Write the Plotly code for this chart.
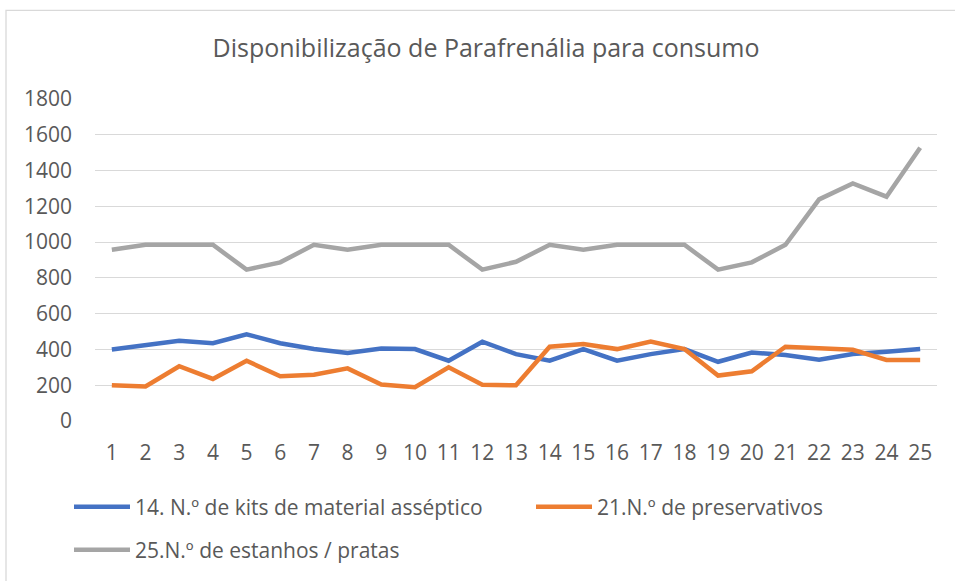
import plotly.graph_objects as go

# periods on the x axis
periods = list(range(1, 26))

kits_assepticos = [400, 424, 448, 435, 485, 435, 402, 380, 405, 402, 337, 443, 374,
                   337, 402, 337, 374, 402, 331, 383, 369, 343, 374, 387, 402]
preservativos = [200, 193, 306, 235, 337, 250, 259, 294, 204, 189, 300, 202, 200,
                 415, 430, 402, 444, 402, 254, 278, 415, 406, 398, 341, 341]
estanhos_pratas = [957, 985, 985, 985, 846, 887, 985, 957, 985, 985, 985, 846, 890,
                   985, 957, 985, 985, 985, 846, 887, 985, 1239, 1328, 1254, 1528]

series_names = ['14. N.º de kits de material asséptico',
                '21.N.º de preservativos',
                '25.N.º de estanhos / pratas']
series_colors = ['#4472C4', '#ED7D31', '#A5A5A5']

text_color = '#595959'
font_family = 'Open Sans, Noto Sans, sans-serif'

W, H = 955, 581
# plot area in pixels: x 95..937, y 99..422
PL, PR, PT, PB = 95, 937, 99, 422
PW, PH = PR - PL, PB - PT
ITEM_W = 56

fig = go.Figure()
legend_ids = ['legend', 'legend2', 'legend3']
for name, values, color, lg in zip(series_names,
                                   [kits_assepticos, preservativos, estanhos_pratas],
                                   series_colors, legend_ids):
    fig.add_trace(go.Scatter(x=periods, y=values, name=name, mode='lines',
                             line=dict(color=color, width=4.5), legend=lg))

# one legend box per entry so the rows sit where Excel put them;
# x_px is where the label text should start
def legend_box(x_px, y_px):
    return dict(xref='paper', x=(x_px - ITEM_W - 10 - PL) / PW, xanchor='left',
                yref='paper', y=(PB - y_px) / PH, yanchor='middle',
                itemwidth=ITEM_W,
                font=dict(size=21, color=text_color), bgcolor='rgba(0,0,0,0)')

fig.update_layout(
    width=W, height=H,
    margin=dict(l=PL, r=W - PR, t=PT, b=H - PB),
    paper_bgcolor='white', plot_bgcolor='white',
    font=dict(family=font_family, color=text_color, size=21),
    title=dict(text='Disponibilização de Parafrenália para consumo',
               x=486 / W, xanchor='center', xref='container',
               y=1 - 48 / H, yanchor='middle', yref='container',
               font=dict(size=25, color=text_color)),
    xaxis=dict(range=[0.5, 25.5], tickmode='array', tickvals=periods,
               ticktext=[str(p) for p in periods], showgrid=False,
               showline=False, zeroline=False, ticks='', ticklabelstandoff=17,
               fixedrange=True),
    yaxis=dict(range=[0, 1800], dtick=200, gridcolor='#D9D9D9', gridwidth=1.3,
               zeroline=False, showline=False, ticks='', ticklabelstandoff=22,
               fixedrange=True),
    legend=legend_box(135, 507),
    legend2=legend_box(597, 507),
    legend3=legend_box(135, 550),
    showlegend=True,
)

# outer chart border
fig.add_shape(type='rect', xref='paper', yref='paper',
              x0=(6 - PL) / PW, x1=(990 - PL) / PW,
              y0=(PB - 620) / PH, y1=1 + (PT - 10) / PH,
              line=dict(color='#D9D9D9', width=1.3), layer='below')

fig.write_html("out.html", config={'displayModeBar': False},
               post_script="document.body.style.margin='0';")
